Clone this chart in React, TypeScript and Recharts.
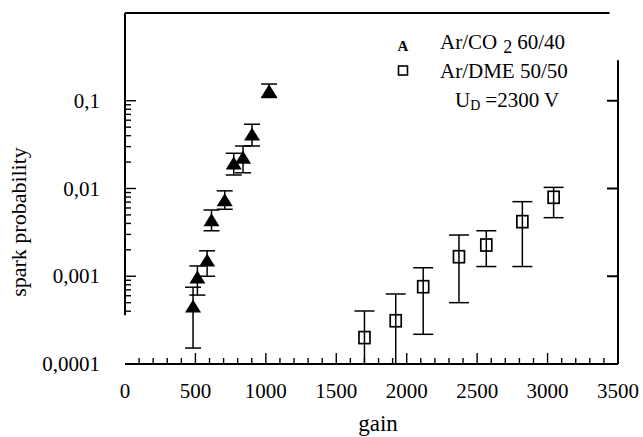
import React from 'react';
import { ScatterChart, Scatter, XAxis, YAxis, ErrorBar, ReferenceLine } from 'recharts';

// Ar/CO2 60/40 (filled triangles)
const co2Gain = [483, 514, 583, 614, 708, 772, 838, 902, 1023];
const co2Prob = [4.47e-4, 9.55e-4, 1.49e-3, 4.3e-3, 7.26e-3, 0.019, 0.0221, 0.0407, 0.127];
const co2Low = [1.52e-4, 6.1e-4, 1.0e-3, 3.3e-3, 5.8e-3, 0.01425, 0.0151, 0.0305, 0.109];
const co2High = [7.5e-4, 1.31e-3, 1.95e-3, 5.69e-3, 9.4e-3, 0.0252, 0.0305, 0.054, 0.155];

// Ar/DME 50/50 (open squares)
const dmeGain = [1700, 1922, 2117, 2371, 2565, 2821, 3043];
const dmeProb = [2.0e-4, 3.11e-4, 7.6e-4, 1.67e-3, 2.27e-3, 4.19e-3, 7.94e-3];
const dmeLow = [1e-4, 1e-4, 2.18e-4, 5.0e-4, 1.29e-3, 1.29e-3, 4.65e-3];
const dmeHigh = [4.02e-4, 6.28e-4, 1.25e-3, 2.95e-3, 3.3e-3, 7.08e-3, 0.0103];

// axes
const xMajorTicks = [0, 500, 1000, 1500, 2000, 2500, 3000, 3500];
const xMajorLabels = ['0', '500', '1000', '1500', '2000', '2500', '3000', '3500'];
const xMinorStep = 100;
const yMajorTicks = [0.0001, 0.001, 0.01, 0.1];
const yMajorLabels = ['0,0001', '0,001', '0,01', '0,1'];
const yMinorMultipliers = [2, 3, 4, 5, 6, 7, 8, 9];
const rightTicks = [0.1, 0.01, 0.001];

const FONT = "'Liberation Serif', 'Times New Roman', serif";

const co2Data = co2Gain.map((g, i) => ({
  gain: g,
  prob: co2Prob[i],
  err: [co2Prob[i] - co2Low[i], co2High[i] - co2Prob[i]],
}));
const dmeData = dmeGain.map((g, i) => ({
  gain: g,
  prob: dmeProb[i],
  err: [dmeProb[i] - dmeLow[i], dmeHigh[i] - dmeProb[i]],
}));

const xTicks: number[] = [];
for (let v = 0; v <= 3500; v += xMinorStep) xTicks.push(v);

const yTicks: number[] = [...yMajorTicks];
yMajorTicks.slice(0, 3).forEach((d, di) => {
  yMinorMultipliers.forEach((m) => {
    if (di === 0 && m < 4) return; // lowest part of left axis is missing in the original
    yTicks.push(m * d);
  });
});
yTicks.sort((a, b) => a - b);

const XTick = (props: any) => {
  const { x, y, payload } = props;
  const v = payload.value;
  const mi = xMajorTicks.indexOf(v);
  const major = mi >= 0;
  return (
    <g>
      {v !== 0 && (
        <line x1={x} x2={x} y1={y} y2={y - (major ? 11 : 6)} stroke="#000" strokeWidth={1.4} />
      )}
      {major && (
        <text x={x} y={y + 34} textAnchor="middle" fontFamily={FONT} fontSize={21} fill="#000">
          {xMajorLabels[mi]}
        </text>
      )}
    </g>
  );
};

const YTick = (props: any) => {
  const { x, y, payload } = props;
  const v = payload.value;
  const mi = yMajorTicks.findIndex((t) => Math.abs(t - v) / t < 1e-6);
  const major = mi >= 0;
  return (
    <g>
      <line x1={x} x2={x + (major ? 11 : 6)} y1={y} y2={y} stroke="#000" strokeWidth={1.4} />
      {major && (
        <text x={x - 25} y={y + 7} textAnchor="end" fontFamily={FONT} fontSize={21} fill="#000">
          {yMajorLabels[mi]}
        </text>
      )}
    </g>
  );
};

const RTick = (props: any) => {
  const { x, y } = props;
  return <line x1={x} x2={x - 11} y1={y} y2={y} stroke="#000" strokeWidth={2} />;
};

const Triangle = (props: any) => {
  const { cx, cy } = props;
  if (cx == null || cy == null) return null;
  return <polygon points={`${cx},${cy - 7.5} ${cx - 8},${cy + 5.5} ${cx + 8},${cy + 5.5}`} fill="#000" />;
};

const Square = (props: any) => {
  const { cx, cy } = props;
  if (cx == null || cy == null) return null;
  return <rect x={cx - 5.5} y={cy - 6} width={11} height={12} fill="none" stroke="#000" strokeWidth={1.7} />;
};

export default function App() {
  return (
    <div style={{ position: 'absolute', left: 0, top: 0, width: 643, height: 437, background: '#fff' }}>
      <ScatterChart
        width={643}
        height={437}
        margin={{ top: 13, right: 15, bottom: 33, left: 65 }}
      >
        <XAxis
          type="number"
          dataKey="gain"
          domain={[0, 3500]}
          ticks={xTicks}
          interval={0}
          tick={(p: any) => <XTick {...p} />}
          tickLine={false}
          tickSize={0}
          tickMargin={0}
          height={40}
          axisLine={{ stroke: '#000', strokeWidth: 2 }}
          allowDataOverflow
        />
        <YAxis
          type="number"
          dataKey="prob"
          scale="log"
          domain={[0.0001, 1]}
          ticks={yTicks}
          interval={0}
          tick={(p: any) => <YTick {...p} />}
          tickLine={false}
          tickSize={0}
          tickMargin={0}
          width={60}
          axisLine={false}
          allowDataOverflow
        />
        <YAxis
          yAxisId="right"
          orientation="right"
          type="number"
          scale="log"
          domain={[0.0001, 1]}
          ticks={rightTicks}
          interval={0}
          tick={(p: any) => <RTick {...p} />}
          tickLine={false}
          tickSize={0}
          tickMargin={0}
          width={10}
          axisLine={false}
          allowDataOverflow
        />
        <ReferenceLine
          segment={[{ x: 0, y: 1 }, { x: 3440, y: 1 }]}
          stroke="#000"
          strokeWidth={2}
          ifOverflow="visible"
        />
        <ReferenceLine
          segment={[{ x: 0, y: 1 }, { x: 0, y: 0.00036 }]}
          stroke="#000"
          strokeWidth={2}
          ifOverflow="visible"
        />
        <ReferenceLine
          segment={[{ x: 3500, y: 0.29 }, { x: 3500, y: 0.0001 }]}
          stroke="#000"
          strokeWidth={2}
          ifOverflow="visible"
        />
        <Scatter data={co2Data} shape={(p: any) => <Triangle {...p} />} isAnimationActive={false}>
          <ErrorBar dataKey="err" direction="y" width={8} stroke="#000" strokeWidth={1.5} />
        </Scatter>
        <Scatter data={dmeData} shape={(p: any) => <Square {...p} />} isAnimationActive={false}>
          <ErrorBar dataKey="err" direction="y" width={10} stroke="#000" strokeWidth={1.5} />
        </Scatter>
      </ScatterChart>
      <svg
        width={643}
        height={437}
        style={{ position: 'absolute', left: 0, top: 0, pointerEvents: 'none' }}
      >
        <text
          transform="translate(26,222) rotate(-90)"
          textAnchor="middle"
          fontFamily={FONT}
          fontSize={22}
          fill="#000"
        >
          spark probability
        </text>
        <text x={378} y={431} textAnchor="middle" fontFamily={FONT} fontSize={23} fill="#000">
          gain
        </text>
        <text x={403} y={51} textAnchor="middle" fontFamily={FONT} fontSize={15} fontWeight="bold" fill="#000">
          A
        </text>
        <text x={440} y={49} fontFamily={FONT} fontSize={21} fill="#000">
          Ar/CO
          <tspan dx={6} dy={4} fontSize={18}>2</tspan>
          <tspan dx={5} dy={-4}>60/40</tspan>
        </text>
        <rect x={398.5} y={66} width={9} height={9} fill="none" stroke="#000" strokeWidth={1.6} />
        <text x={440} y={78} fontFamily={FONT} fontSize={21} fill="#000">
          Ar/DME 50/50
        </text>
        <text x={455} y={107} fontFamily={FONT} fontSize={21} fill="#000">
          U
          <tspan fontSize={14} dy={3}>D</tspan>
          <tspan dx={5} dy={-3}>=2300 V</tspan>
        </text>
      </svg>
    </div>
  );
}
